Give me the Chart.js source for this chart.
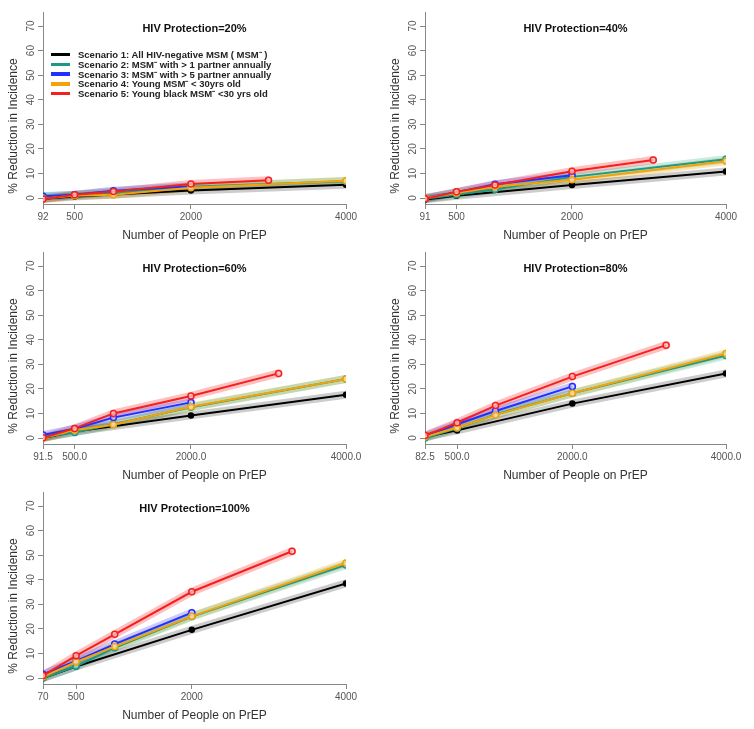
<!DOCTYPE html>
<html>
<head>
<meta charset="utf-8">
<script src="https://cdn.jsdelivr.net/npm/chart.js@4.4.1/dist/chart.umd.min.js"></script>
<style>
  body { margin: 0; background: #fff; }
  .panel { position: absolute; width: 377px; height: 246px; }
  #legend { position: absolute; left: 51px; top: 50px; font: bold 9.5px 'Liberation Sans', Arial, sans-serif; color: #222; line-height: 9.8px; white-space: nowrap; }
  #legend .sw { display: inline-block; width: 19px; height: 3.5px; vertical-align: middle; margin-right: 8px; margin-top: -2px; }
</style>
</head>
<body>
<div class="panel" style="left:0;top:0"><canvas id="p0" width="377" height="246"></canvas></div>
<div class="panel" style="left:377px;top:0"><canvas id="p1" width="377" height="246"></canvas></div>
<div class="panel" style="left:0;top:240px"><canvas id="p2" width="377" height="246"></canvas></div>
<div class="panel" style="left:377px;top:240px"><canvas id="p3" width="377" height="246"></canvas></div>
<div class="panel" style="left:0;top:480px"><canvas id="p4" width="377" height="246"></canvas></div>
<div id="legend"></div>

<script>
// ---- data ----
const protection = ['20%', '40%', '60%', '80%', '100%'];
const startPeople = [92, 91, 91.5, 82.5, 70];     // first point / first tick of each panel
const redEndPeople = [3000, 3055, 3130, 3220, 3300];
const midTicks = [500, 2000, 4000];
const tickDecimals = [0, 0, 1, 1, 0];
const yTickValues = [0, 10, 20, 30, 40, 50, 60, 70];

const scenarioNames = [
    'Scenario 1: All HIV-negative MSM ( MSM\u207B )',
    'Scenario 2: MSM\u207B with > 1 partner annually',
    'Scenario 3: MSM\u207B with > 5 partner annually',
    'Scenario 4: Young MSM\u207B < 30yrs old',
    'Scenario 5: Young black MSM\u207B <30 yrs old'
];

// people on PrEP after the start point
const xBlack = [500, 2000, 4000];
const xTeal = [500, 1000, 2000, 4000];
const xBlue = [500, 1000, 2000];
const xOrange = [500, 1000, 2000, 4000];
const xRed = [500, 1000, 2000];   // last point is redEndPeople

// % reduction in incidence, one row per protection level
const black = [
    [-0.3, 0.6, 3.1, 5.4],
    [-0.6, 0.9, 5.3, 10.8],
    [0.0, 2.6, 9.2, 17.6],
    [0.4, 3.1, 14.0, 26.3],
    [0.0, 4.7, 19.6, 38.5]
];
const teal = [
    [0.8, 1.2, 2.2, 4.6, 6.8],
    [-0.3, 1.3, 3.5, 8.6, 15.8],
    [0.4, 2.2, 5.6, 12.5, 24.0],
    [0.0, 4.0, 9.6, 18.2, 33.6],
    [0.0, 4.8, 12.3, 25.0, 46.0]
];
const blue = [
    [0.6, 1.3, 3.0, 4.8],
    [0.0, 2.3, 5.6, 9.3],
    [1.2, 3.8, 8.3, 14.5],
    [0.8, 5.6, 11.0, 21.0],
    [1.5, 7.0, 13.8, 26.6]
];
const orange = [
    [-0.2, 0.9, 1.3, 4.2, 7.0],
    [0.0, 2.0, 4.6, 7.4, 15.0],
    [0.0, 3.2, 5.4, 12.7, 24.0],
    [0.5, 4.2, 9.4, 18.2, 34.4],
    [0.5, 6.5, 12.8, 25.1, 46.8]
];
const red = [
    [-0.4, 1.3, 2.6, 5.7, 7.2],
    [-0.3, 2.5, 5.3, 10.9, 15.5],
    [0.1, 3.9, 10.0, 17.1, 26.3],
    [1.0, 6.2, 13.2, 25.0, 37.8],
    [1.0, 9.1, 17.8, 35.1, 51.6]
];

// ---- styles ----
const lineColors = ['#000000', '#1a9985', '#2030ff', '#f5a20a', '#f42020'];
const bandColors = ['rgba(0,0,0,0.2)', 'rgba(40,170,150,0.25)', 'rgba(80,80,255,0.3)', 'rgba(245,170,0,0.3)', 'rgba(255,60,60,0.32)'];
const markerFill = ['#000000', 'rgba(200,235,230,0.7)', 'rgba(215,215,255,0.7)', 'rgba(255,235,190,0.7)', 'rgba(255,210,210,0.7)'];

Chart.defaults.font.family = "'Liberation Sans', Arial, sans-serif";

// legend (only in the first panel)
const legend = document.getElementById('legend');
scenarioNames.forEach((name, i) => {
    const row = document.createElement('div');
    const sw = document.createElement('span');
    sw.className = 'sw';
    sw.style.background = lineColors[i];
    row.appendChild(sw);
    row.appendChild(document.createTextNode(name));
    legend.appendChild(row);
});

// panel heading and y title drawn at fixed spots like the R figure
const panelText = {
    id: 'panelText',
    afterDraw(chart, args, opts) {
        const ctx = chart.ctx, area = chart.chartArea;
        ctx.save();
        ctx.fillStyle = '#111';
        ctx.font = "bold 11px 'Liberation Sans', Arial, sans-serif";
        ctx.textAlign = 'center';
        ctx.textBaseline = 'middle';
        ctx.fillText(opts.heading, (area.left + area.right) / 2, 29);
        ctx.fillStyle = '#333';
        ctx.font = "12px 'Liberation Sans', Arial, sans-serif";
        ctx.translate(opts.titleX, 126);
        ctx.rotate(-Math.PI / 2);
        ctx.fillText('% Reduction in Incidence', 0, 0);
        ctx.restore();
    }
};

function pts(xs, ys) {
    return xs.map((x, i) => ({x: x, y: ys[i]}));
}

function makePanel(p, left, right, titleX) {
    const s = startPeople[p];
    const series = [
        pts([s].concat(xBlack), black[p]),
        pts([s].concat(xTeal), teal[p]),
        pts([s].concat(xBlue), blue[p]),
        pts([s].concat(xOrange), orange[p]),
        pts([s].concat(xRed, [redEndPeople[p]]), red[p])
    ];
    const datasets = [];
    series.forEach((data, i) => {
        datasets.push({
            data: data,
            borderColor: bandColors[i],
            borderWidth: 8,
            borderCapStyle: 'round',
            borderJoinStyle: 'round',
            pointRadius: 0,
            order: 10
        });
        datasets.push({
            data: data,
            borderColor: lineColors[i],
            borderWidth: 2,
            pointRadius: i === 0 ? 2.5 : 3,
            pointBorderWidth: 1.5,
            pointBorderColor: lineColors[i],
            pointBackgroundColor: markerFill[i],
            order: 5 - i
        });
    });

    new Chart(document.getElementById('p' + p), {
        type: 'line',
        data: { datasets: datasets },
        options: {
            responsive: false,
            animation: false,
            events: [],
            layout: { padding: { left: 0, right: 377 - right, top: 12, bottom: 0 } },
            plugins: {
                legend: { display: false },
                tooltip: { enabled: false },
                panelText: { heading: 'HIV Protection=' + protection[p], titleX: titleX }
            },
            scales: {
                x: {
                    type: 'linear',
                    min: s,
                    max: 4000,
                    afterBuildTicks: sc => { sc.ticks = [s].concat(midTicks).map(v => ({value: v})); },
                    afterFit: sc => { sc.height = 42; },
                    grid: { drawOnChartArea: false, tickLength: 5, color: '#888' },
                    border: { color: '#888' },
                    ticks: {
                        color: '#555', font: { size: 10 }, padding: 2, maxRotation: 0, autoSkip: false,
                        callback: v => Number(v).toFixed(tickDecimals[p])
                    },
                    title: { display: true, text: 'Number of People on PrEP', color: '#333', font: { size: 12 }, padding: { top: 0, bottom: 3 } }
                },
                y: {
                    min: -2.44,
                    max: 75.7,
                    afterBuildTicks: sc => { sc.ticks = yTickValues.map(v => ({value: v})); },
                    afterFit: sc => { sc.width = left; },
                    grid: { drawOnChartArea: false, tickLength: 5, color: '#888' },
                    border: { color: '#888' },
                    ticks: { color: '#555', font: { size: 10 }, padding: 1, minRotation: 90, maxRotation: 90, crossAlign: 'center' }
                }
            }
        },
        plugins: [panelText]
    });
}

makePanel(0, 43, 346, 14);
makePanel(1, 48, 349, 19);
makePanel(2, 43, 346, 14);
makePanel(3, 48, 349, 19);
makePanel(4, 43, 346, 14);
</script>
</body>
</html>
